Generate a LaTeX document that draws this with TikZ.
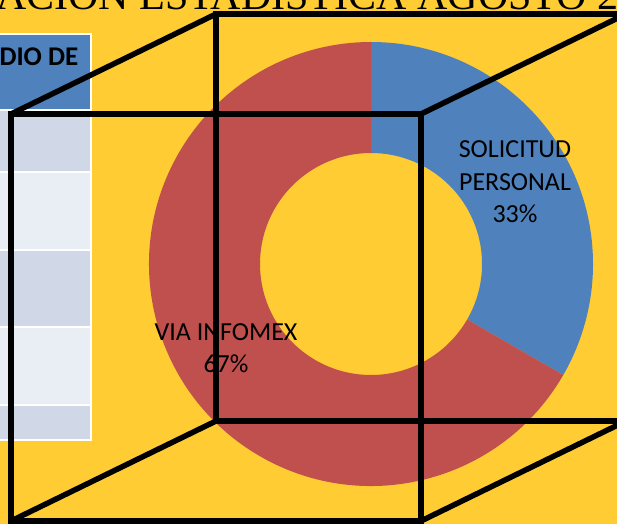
\documentclass[tikz,border=0pt]{standalone}
\usepackage{fontspec}
\setmainfont{Carlito}
\newfontfamily\titlefont{Liberation Serif}
\definecolor{bgy}{RGB}{255,204,51}
\definecolor{pieblue}{RGB}{79,129,189}
\definecolor{piered}{RGB}{192,80,77}
\definecolor{rowdark}{RGB}{208,216,232}
\definecolor{rowlight}{RGB}{233,237,244}
\tikzset{
  cubeline/.style={draw=black, line width=5.5pt, line join=miter},
  pielabel/.style={font=\fontsize{26}{32.5}\selectfont, align=center, text=black, inner sep=0pt},
}
\begin{document}
\begin{tikzpicture}[x=1pt,y=-1pt]
\useasboundingbox (0,0) rectangle (617,524);
\clip (0,0) rectangle (617,524);
\fill[bgy] (0,0) rectangle (617,524);
% title (cut off at top)
\node[anchor=base west, inner sep=0pt, font=\titlefont\fontsize{42}{42}\selectfont] (title) at (-4,10) {ACION ESTADISTICA AGOSTO 2};
% table
\fill[white] (-5,33) rectangle (92,441);
\fill[pieblue] (-5,35) rectangle (89.5,108.5);
\fill[rowdark] (-5,110.5) rectangle (89.5,170.5);
\fill[rowlight] (-5,172.5) rectangle (89.5,249);
\fill[rowdark] (-5,251) rectangle (89.5,326);
\fill[rowlight] (-5,328) rectangle (89.5,404);
\fill[rowdark] (-5,406) rectangle (89.5,439);
\node[anchor=base east, inner sep=0pt, font=\bfseries\fontsize{27}{27}\selectfont] (hdr) at (78.5,66) {DIO DE};
% donut
\begin{scope}[shift={(371,264)}, x=1pt, y=1pt]
  \fill[pieblue] (90:222) arc[start angle=90, end angle=-30, radius=222] -- (-30:111) arc[start angle=-30, end angle=90, radius=111] -- cycle;
  \fill[piered] (-30:222) arc[start angle=-30, end angle=-270, radius=222] -- (90:111) arc[start angle=90, end angle=330, radius=111] -- cycle;
\end{scope}
\node[pielabel] (sp) at (515,182) {SOLICITUD\\PERSONAL\\33\%};
\node[pielabel] (vi) at (226,348) {VIA INFOMEX\\67\%};
% cube
\coordinate (f1) at (11,114);
\coordinate (f2) at (421,114);
\coordinate (f3) at (421,521);
\coordinate (f4) at (11,521);
\coordinate (b1) at (216,14);
\coordinate (b2) at (626,14);
\coordinate (b3) at (626,421);
\coordinate (b4) at (216,421);
\draw[cubeline] (b1) -- (b2) -- (b3) -- (b4) -- cycle;
\draw[cubeline] (f1) -- (f2) -- (f3) -- (f4) -- cycle;
\draw[cubeline] (f1) -- (b1);
\draw[cubeline] (f2) -- (b2);
\draw[cubeline] (f3) -- (b3);
\draw[cubeline] (f4) -- (b4);
\end{tikzpicture}
\end{document}
